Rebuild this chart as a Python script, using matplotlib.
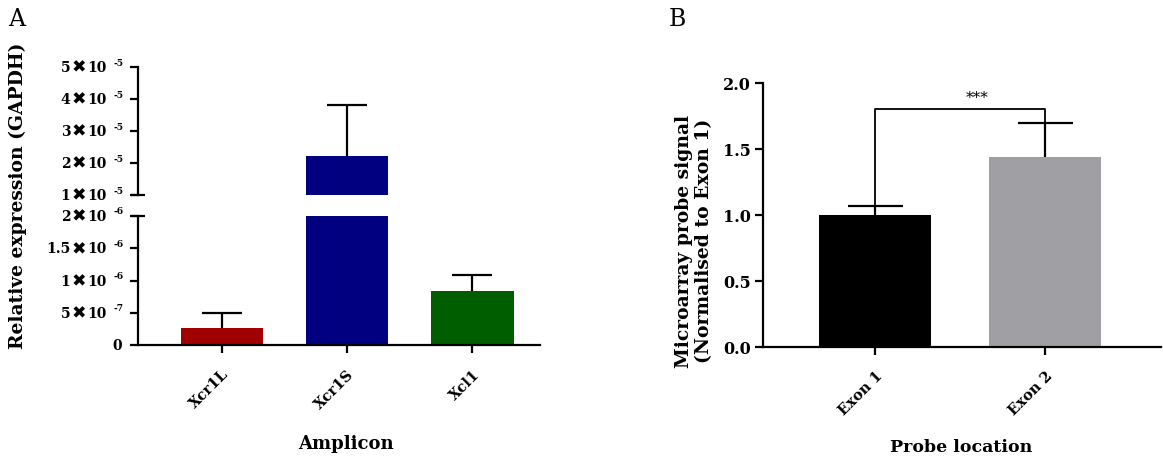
import matplotlib
matplotlib.use('Agg')
import matplotlib.pyplot as plt
import matplotlib.transforms as mtransforms

plt.rcParams['font.family'] = ['DejaVu Serif', 'DejaVu Sans']

# panel A data
amplicons = ['Xcr1L', 'Xcr1S', 'Xcl1']
expr_mean = [2.6e-7, 2.22e-5, 8.4e-7]
expr_err = [2.4e-7, 1.58e-5, 2.5e-7]
amp_colors = ['#a00000', '#000080', '#005e00']
upper_ticks = [1e-5, 2e-5, 3e-5, 4e-5, 5e-5]
upper_labels = ['1', '2', '3', '4', '5']
upper_exps = [-5, -5, -5, -5, -5]
lower_ticks = [0, 5e-7, 1e-6, 1.5e-6, 2e-6]
lower_labels = ['0', '5', '1', '1.5', '2']
lower_exps = [None, -7, -6, -6, -6]

# panel B data
probes = ['Exon 1', 'Exon 2']
signal_mean = [1.0, 1.44]
signal_err = [0.07, 0.26]
probe_colors = ['#000000', '#a0a0a4']
sig_y = 1.8
sig_text = '***'

W, H = 1163, 459
fig = plt.figure(figsize=(W / 100, H / 100), dpi=100)


def fx(px):
    return px / W


def fy(py):
    return 1 - py / H


def sci_labels(ax, ticks, mants, exps):
    # draw "m ✖ 10 ^e" tick labels piece by piece, offsets in pixels from the spine
    base = ax.get_yaxis_transform()
    ax.set_yticks(ticks)
    ax.set_yticklabels([])

    def at(dx, dy=0):
        return mtransforms.offset_copy(base, fig=fig, x=dx, y=dy, units='dots')

    kw = dict(fontweight='bold', fontsize=10, va='center', clip_on=False)
    for t, m, e in zip(ticks, mants, exps):
        if e is None:
            ax.text(0, t, m, ha='right', transform=at(-16, -1), **kw)
            continue
        ax.text(0, t, m, ha='right', transform=at(-67.5, -1), **kw)
        ax.text(0, t, '\u2716', ha='center', transform=at(-59.5, -1), family='DejaVu Sans',
                fontsize=12.5, fontweight='bold', va='center', clip_on=False)
        ax.text(0, t, '10', ha='center', transform=at(-41, -1), **kw)
        ax.text(0, t, str(e), ha='center', transform=at(-19.5, 4), fontweight='bold',
                fontsize=6.5, va='center', clip_on=False)


lw = 1.6
bw = 0.66
xl = (-0.67, 2.54)

ax_up = fig.add_axes([fx(138), fy(195), fx(540) - fx(138), fy(67) - fy(195)])
ax_lo = fig.add_axes([fx(138), fy(345), fx(540) - fx(138), fy(216) - fy(345)])

for ax in (ax_up, ax_lo):
    x = range(len(amplicons))
    ax.bar(x, expr_mean, width=bw, color=amp_colors)
    tops = [m + e for m, e in zip(expr_mean, expr_err)]
    ax.vlines(x, expr_mean, tops, color='black', lw=lw)
    ax.hlines(tops, [i - 0.16 for i in x], [i + 0.16 for i in x], color='black', lw=lw)
    ax.set_xlim(*xl)
    for s in ('top', 'right'):
        ax.spines[s].set_visible(False)
    ax.spines['left'].set_linewidth(lw)
    ax.tick_params(axis='y', width=lw, length=6)
    ax.patch.set_alpha(0)

ax_up.set_ylim(1e-5, 5e-5)
ax_up.spines['bottom'].set_visible(False)
ax_up.set_xticks([])
sci_labels(ax_up, upper_ticks, upper_labels, upper_exps)

ax_lo.set_ylim(0, 2e-6)
ax_lo.spines['bottom'].set_linewidth(lw)
sci_labels(ax_lo, lower_ticks, lower_labels, lower_exps)
ax_lo.set_xticks(range(len(amplicons)))
ax_lo.set_xticklabels(amplicons, rotation=45, ha='right', rotation_mode='anchor',
                      fontweight='bold', fontsize=10.5)
ax_lo.tick_params(axis='x', width=lw, length=6, pad=10)

# break marks across the spine
for ax, yv in ((ax_up, 0), (ax_lo, 1)):
    tr = mtransforms.blended_transform_factory(ax.transAxes, ax.transAxes)
    ax.plot([-0.018, 0.018], [yv, yv], color='black', lw=lw, transform=tr,
            clip_on=False, solid_capstyle='butt')

fig.text(fx(18), fy(196), 'Relative expression (GAPDH)', rotation=90, ha='center',
         va='center', fontsize=13.5, fontweight='bold')
fig.text(fx(346), fy(444), 'Amplicon', ha='center', va='center', fontsize=13,
         fontweight='bold')
fig.text(fx(8), fy(19), 'A', ha='left', va='center', fontsize=17)

# panel B
axb = fig.add_axes([fx(763), fy(347), fx(1161) - fx(763), fy(83) - fy(347)])
xb = range(len(probes))
axb.bar(xb, signal_mean, width=bw, color=probe_colors)
tops_b = [m + e for m, e in zip(signal_mean, signal_err)]
axb.vlines(xb, signal_mean, tops_b, color='black', lw=lw)
axb.hlines(tops_b, [i - 0.162 for i in xb], [i + 0.162 for i in xb], color='black', lw=lw)
axb.plot([0, 0, 1, 1], [signal_mean[0], sig_y, sig_y, tops_b[1]], color='black', lw=1.3)
axb.text(0.6, sig_y + 0.03, sig_text, ha='center', va='bottom', fontsize=11)
axb.set_xlim(-0.66, 1.68)
axb.set_ylim(0, 2.0)
axb.set_yticks([0, 0.5, 1.0, 1.5, 2.0])
axb.set_yticklabels(['0.0', '0.5', '1.0', '1.5', '2.0'], fontweight='bold')
axb.set_xticks(list(xb))
axb.set_xticklabels(probes, rotation=45, ha='right', rotation_mode='anchor',
                    fontweight='bold', fontsize=10.5)
for s in ('top', 'right'):
    axb.spines[s].set_visible(False)
for s in ('left', 'bottom'):
    axb.spines[s].set_linewidth(lw)
axb.tick_params(axis='y', width=lw, length=6, labelsize=11.5, pad=3)
axb.tick_params(axis='x', width=lw, length=6, pad=10)

fig.text(fx(694), fy(241), 'Microarray probe signal\n(Normalised to Exon 1)', rotation=90,
         ha='center', va='center', fontsize=13.5, fontweight='bold', linespacing=1.15)
fig.text(fx(961), fy(447), 'Probe location', ha='center', va='center', fontsize=12.5,
         fontweight='bold')
fig.text(fx(669), fy(20), 'B', ha='left', va='center', fontsize=17)

fig.savefig('out.png', dpi=100)
